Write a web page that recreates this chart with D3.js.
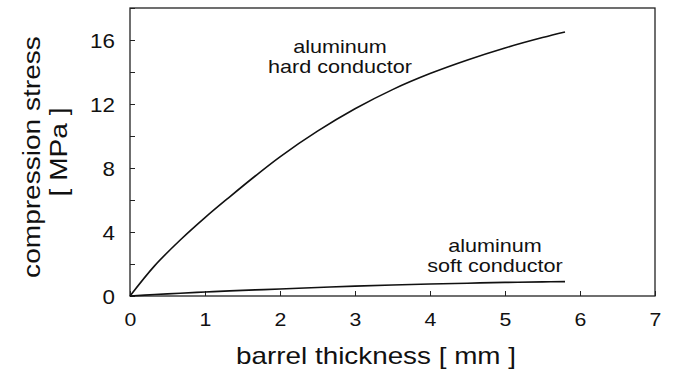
<!DOCTYPE html>
<html>
<head>
<meta charset="utf-8">
<script src="https://cdn.jsdelivr.net/npm/d3@7"></script>
<style>
  body { margin: 0; background: #fff; }
  text { font-family: "Liberation Sans", Arial, sans-serif; fill: #111; }
</style>
</head>
<body>
<div id="chart"></div>
<script>
// thickness (mm) and stress (MPa)
var thickness = [0, 0.33, 0.67, 1, 1.33, 1.67, 2, 2.5, 3, 3.5, 4, 4.5, 5, 5.5, 5.8];
var hardStress = [0, 1.9, 3.5, 4.9, 6.2, 7.5, 8.7, 10.3, 11.7, 12.9, 13.9, 14.75, 15.5, 16.15, 16.5];
var softStress = [0, 0.09, 0.17, 0.25, 0.32, 0.38, 0.44, 0.53, 0.62, 0.69, 0.75, 0.8, 0.85, 0.88, 0.9];
var xTicks = [0, 1, 2, 3, 4, 5, 6, 7];
var yTicks = [0, 2, 4, 6, 8, 10, 12, 14, 16, 18];
var yLabels = [0, 4, 8, 12, 16];

var svgWidth = 675, svgHeight = 371;
var margin = {top: 8, right: 20, bottom: 75, left: 130};
var width = svgWidth - margin.left - margin.right;
var height = svgHeight - margin.top - margin.bottom;

var svg = d3.select("#chart").append("svg")
    .attr("width", svgWidth)
    .attr("height", svgHeight);

var chart = svg.append("g")
    .attr("transform", `translate(${margin.left}, ${margin.top})`);

var x = d3.scaleLinear().domain([0, 7]).range([0, width]);
var y = d3.scaleLinear().domain([0, 18]).range([height, 0]);

// the original text is a bit wider than Arial, so stretch it
function label(parent, tx, ty, str, size, stretch, rot) {
    return parent.append("text")
        .attr("transform", `translate(${tx}, ${ty}) rotate(${rot || 0}) scale(${stretch}, 1)`)
        .attr("text-anchor", "middle")
        .attr("font-size", size + "px")
        .text(str);
}

// frame
chart.append("rect")
    .attr("width", width).attr("height", height)
    .attr("fill", "none").attr("stroke", "#222").attr("stroke-width", 1.3);

// x axis, ticks point inward
var xAxis = chart.append("g")
    .attr("transform", `translate(0, ${height})`)
    .call(d3.axisBottom(x).tickValues(xTicks).tickSizeInner(-5).tickSizeOuter(0).tickFormat(""));
xAxis.select(".domain").remove();
xAxis.selectAll("line").attr("stroke", "#222");
xAxis.selectAll(".tick").each(function(d) {
    label(d3.select(this), 0, 30, d, 19, 1.12);
});

// y axis
var yAxis = chart.append("g")
    .call(d3.axisLeft(y).tickValues(yTicks).tickSizeInner(-5).tickSizeOuter(0).tickFormat(""));
yAxis.select(".domain").remove();
yAxis.selectAll("line").attr("stroke", "#222");
yAxis.selectAll(".tick").filter(d => yLabels.includes(d)).each(function(d) {
    label(d3.select(this), -15, 7, d, 20, 1.12).attr("text-anchor", "end");
});

// curves
var line = d3.line().curve(d3.curveCatmullRom.alpha(0.5))
    .x((d, i) => x(thickness[i]))
    .y(d => y(d));

chart.append("path").datum(hardStress)
    .attr("d", line).attr("fill", "none").attr("stroke", "#111").attr("stroke-width", 1.6);
chart.append("path").datum(softStress)
    .attr("d", line).attr("fill", "none").attr("stroke", "#111").attr("stroke-width", 1.6);

// curve labels
label(svg, 340, 53, "aluminum", 18, 1.2);
label(svg, 340, 73, "hard conductor", 18, 1.2);
label(svg, 495, 252, "aluminum", 18, 1.2);
label(svg, 495, 272, "soft conductor", 18, 1.2);

// axis titles
label(svg, 376, 364, "barrel thickness [ mm ]", 24, 1.16);
label(svg, 40, 157, "compression stress", 24, 1.17, -90);
label(svg, 67, 152, "[ MPa ]", 24, 1.17, -90);
</script>
</body>
</html>
